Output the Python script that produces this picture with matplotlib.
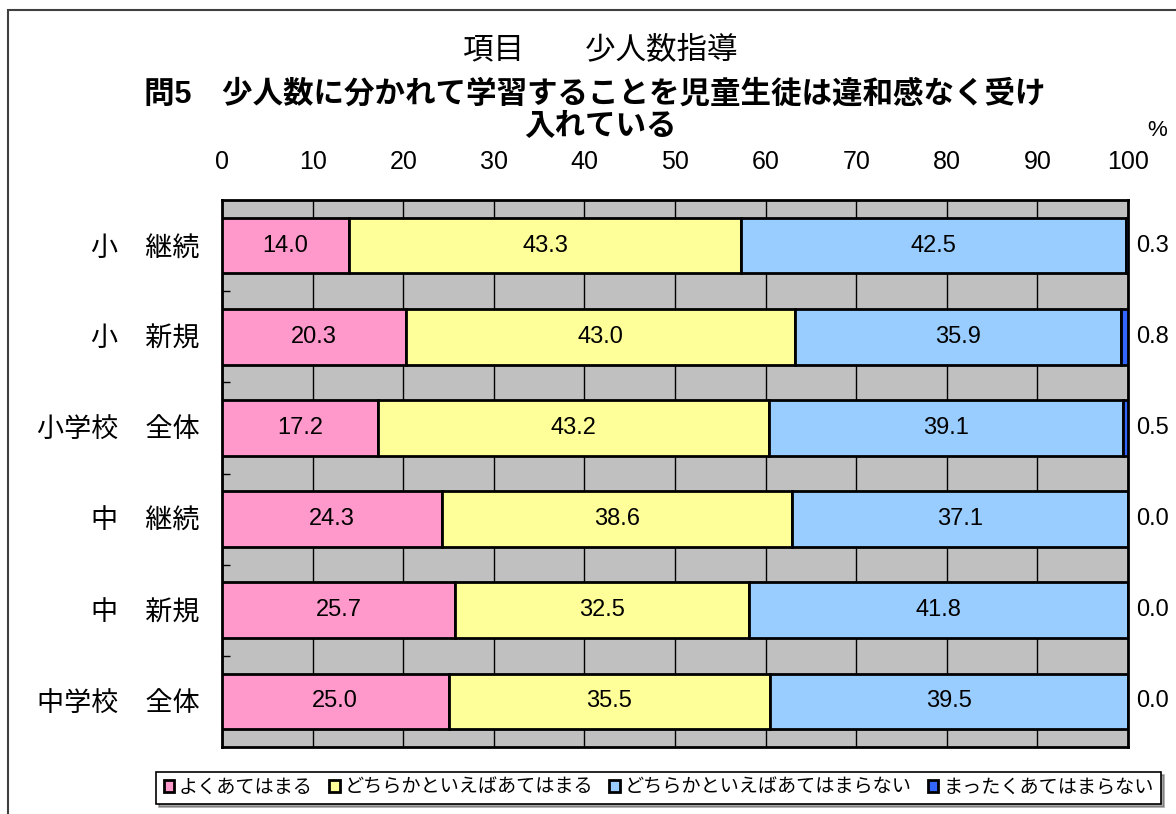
import matplotlib.pyplot as plt
import matplotlib.patches as mpatches
import numpy as np

plt.rcParams['font.family'] = ['Liberation Sans', 'Noto Sans CJK JP']

categories = ['小　継続', '小　新規', '小学校　全体', '中　継続', '中　新規', '中学校　全体']
series_names = ['よくあてはまる', 'どちらかといえばあてはまる',
                'どちらかといえばあてはまらない', 'まったくあてはまらない']
yoku = [14.0, 20.3, 17.2, 24.3, 25.7, 25.0]
dochira_a = [43.3, 43.0, 43.2, 38.6, 32.5, 35.5]
dochira_n = [42.5, 35.9, 39.1, 37.1, 41.8, 39.5]
mattaku = [0.3, 0.8, 0.5, 0.0, 0.0, 0.0]
xticks = list(range(0, 101, 10))

colors = ['#FF99CC', '#FFFF99', '#99CCFF', '#3366FF']

W, H = 1176, 814
fig = plt.figure(figsize=(W / 100, H / 100), dpi=100)
ax = fig.add_axes([222 / W, 1 - 747 / H, (1128 - 222) / W, (747 - 200) / H])
ax.set_facecolor('#C0C0C0')

y = np.arange(len(categories))
left = np.zeros(len(categories))
bars = []
for vals, col, name in zip([yoku, dochira_a, dochira_n, mattaku], colors, series_names):
    b = ax.barh(y, vals, left=left, height=0.61, color=col, edgecolor='black',
                linewidth=2, label=name, zorder=3)
    bars.append(b)
    left += np.array(vals)

for b in bars[:3]:
    ax.bar_label(b, labels=['%.1f' % v.get_width() for v in b], label_type='center',
                 fontsize=17, zorder=4)
for yi, v in zip(y, mattaku):
    ax.text(100.9, yi, '%.1f' % v, va='center', ha='left', fontsize=17, clip_on=False)

ax.set_xlim(0, 100)
ax.set_ylim(len(categories) - 0.5, -0.5)
ax.set_xticks(xticks)
ax.xaxis.tick_top()
ax.tick_params(axis='x', length=0, labelsize=18, pad=19)
ax.grid(axis='x', color='black', linewidth=1, zorder=1)
ax.set_axisbelow(True)
ax.set_yticks(y)
ax.set_yticklabels(categories, fontsize=19.5)
ax.tick_params(axis='y', which='major', length=0, pad=16)
ax.set_yticks(np.arange(0.5, len(categories) - 0.5), minor=True)
ax.tick_params(axis='y', which='minor', direction='in', length=6, width=1)
for s in ax.spines.values():
    s.set_linewidth(2)

fig.text(600 / W, 1 - 50 / H, '項目　　少人数指導', ha='center', va='center', fontsize=22)
fig.text(595 / W, 1 - 95 / H, '問5　少人数に分かれて学習することを児童生徒は違和感なく受け',
         ha='center', va='center', fontsize=22, fontweight='bold')
fig.text(600 / W, 1 - 127 / H, '入れている', ha='center', va='center', fontsize=22,
         fontweight='bold')
fig.text(1157 / W, 1 - 130 / H, '%', ha='center', va='center', fontsize=16)

fig.patches.append(mpatches.Rectangle((8 / W, -0.2), 2, 1.2 - 10 / H, transform=fig.transFigure,
                                      fill=False, edgecolor='#404040', linewidth=1.5))

leg = fig.legend(handles=bars, labels=series_names, loc='center left', ncol=4,
                 bbox_to_anchor=(156 / W, 1 - 788 / H), fontsize=13.8, frameon=True,
                 handlelength=0.55, handleheight=0.55, handletextpad=0.25, columnspacing=0.85,
                 borderpad=0.4, borderaxespad=0, fancybox=False, shadow=True)
leg.get_frame().set_edgecolor('black')
leg.get_frame().set_linewidth(1.2)

fig.savefig('out.png', dpi=100)
